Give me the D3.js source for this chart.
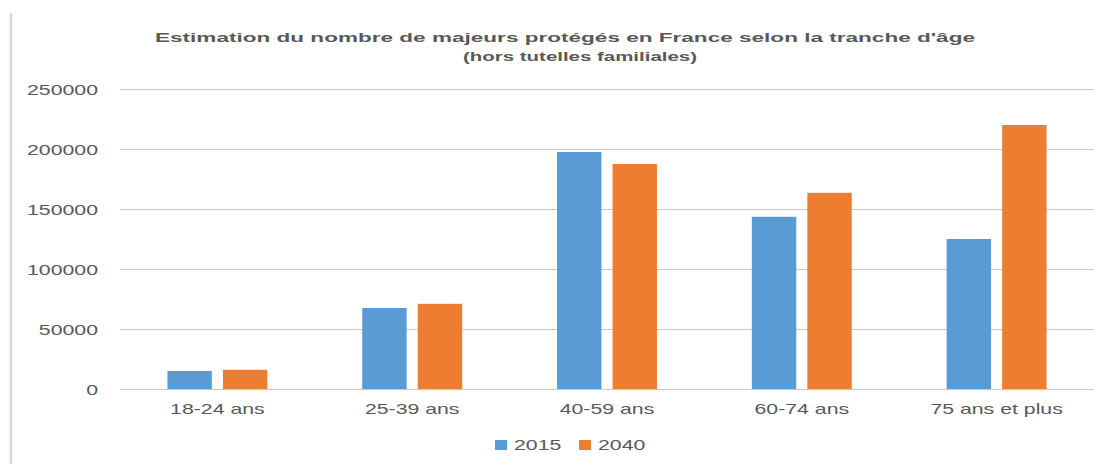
<!DOCTYPE html>
<html>
<head>
<meta charset="utf-8">
<script src="https://cdn.jsdelivr.net/npm/d3@7"></script>
<style>
  body { margin: 0; background: #fff; }
  svg { display: block; font-family: "Liberation Sans", Arial, sans-serif; }
</style>
</head>
<body>
<div id="chart"></div>
<script>
const categories = ['18-24 ans', '25-39 ans', '40-59 ans', '60-74 ans', '75 ans et plus'];
const seriesNames = ['2015', '2040'];
const values2015 = [15000, 67500, 197500, 143500, 125000];
const values2040 = [16000, 71000, 187500, 163500, 220000];
const yTicks = [0, 50000, 100000, 150000, 200000, 250000];
const titleLines = ["Estimation du nombre de majeurs protégés en France selon la tranche d'âge", '(hors tutelles familiales)'];

const W = 1107, H = 464;
const plot = { left: 120, right: 1094, top: 89, bottom: 389 };
const SX = 1.52; // the reference is stretched horizontally
const textColor = '#595959';
const colors = { '2015': '#5B9BD5', '2040': '#ED7D31' };

const svg = d3.select('#chart').append('svg').attr('width', W).attr('height', H);

// left border of the frame
svg.append('line').attr('x1', 11).attr('x2', 11).attr('y1', 13).attr('y2', H)
  .attr('stroke', '#d9d9d9').attr('stroke-width', 2.5);

const x0 = d3.scaleBand().domain(categories).range([plot.left, plot.right])
  .paddingInner(0.487).paddingOuter(0.2435);
const x1 = d3.scaleBand().domain(seriesNames).range([0, x0.bandwidth()]).paddingInner(0.2);
const y = d3.scaleLinear().domain([0, 250000]).range([plot.bottom, plot.top]);

// grid + y labels
const yAxis = svg.append('g').attr('transform', `translate(${plot.left},0)`)
  .call(d3.axisLeft(y).tickValues(yTicks).tickSize(-(plot.right - plot.left)).tickFormat(d3.format('d')));
yAxis.select('.domain').remove();
yAxis.selectAll('line').attr('stroke', '#c9c9c9').attr('stroke-width', 1);
yAxis.selectAll('text').attr('x', -22 / SX).attr('dy', '0.4em')
  .attr('transform', `scale(${SX},1)`)
  .style('font-size', '14px').style('fill', textColor);

// x labels
const xAxis = svg.append('g').attr('transform', `translate(0,${plot.bottom})`)
  .call(d3.axisBottom(x0).tickSize(0).tickPadding(0));
xAxis.select('.domain').remove();
xAxis.selectAll('text').attr('y', 25).attr('dy', 0)
  .attr('transform', `scale(${SX},1)`)
  .style('font-size', '14px').style('fill', textColor);

// bars
const rows = categories.map((c, i) => ({ cat: c, vals: [
  { key: '2015', value: values2015[i] }, { key: '2040', value: values2040[i] }] }));
svg.selectAll('.group').data(rows).join('g').attr('class', 'group')
  .attr('transform', d => `translate(${x0(d.cat)},0)`)
  .selectAll('rect').data(d => d.vals).join('rect')
  .attr('x', d => x1(d.key)).attr('y', d => y(d.value))
  .attr('width', x1.bandwidth()).attr('height', d => y(0) - y(d.value))
  .attr('fill', d => colors[d.key]);

// title
const title = svg.append('g');
title.append('text').attr('x', 565).attr('y', 42).attr('text-anchor', 'middle')
  .attr('textLength', 820).attr('lengthAdjust', 'spacingAndGlyphs')
  .style('font-size', '13px').style('font-weight', 'bold').style('fill', textColor)
  .text(titleLines[0]);
title.append('text').attr('x', 580).attr('y', 61).attr('text-anchor', 'middle')
  .attr('textLength', 234).attr('lengthAdjust', 'spacingAndGlyphs')
  .style('font-size', '13px').style('font-weight', 'bold').style('fill', textColor)
  .text(titleLines[1]);

// legend
const legend = svg.append('g').attr('transform', 'translate(495,440)');
const item = legend.selectAll('g').data(seriesNames).join('g')
  .attr('transform', (d, i) => `translate(${i * 84},0)`);
item.append('rect').attr('width', 12).attr('height', 10).attr('fill', d => colors[d]);
item.append('text').attr('x', 19 / SX).attr('y', 10)
  .attr('transform', `scale(${SX},1)`)
  .style('font-size', '14px').style('fill', textColor).text(d => d);
</script>
</body>
</html>
